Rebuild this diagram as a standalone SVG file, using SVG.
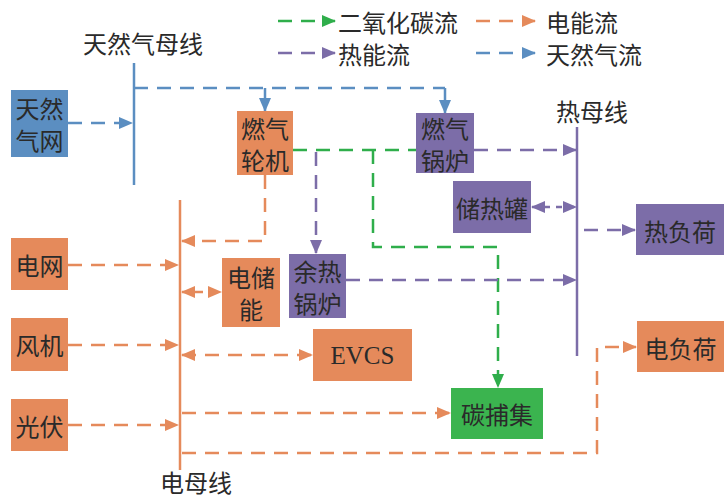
<svg xmlns="http://www.w3.org/2000/svg" width="726" height="498" viewBox="0 0 726 498">
<style>
text{font-family:"Noto Sans CJK SC","Liberation Serif",sans-serif;font-size:24px;fill:#2a2a2a;text-anchor:middle;dominant-baseline:central}
.en{font-family:"Liberation Serif",serif;font-size:25px}
.lg{text-anchor:start}
.orange{fill:#E58A5B}.blue{fill:#5B8EC1}.purple{fill:#7C6DA8}.green{fill:#3BB44F}
.so{stroke:#E58A5B}.sb{stroke:#5B8EC1}.sp{stroke:#7C6DA8}.sg{stroke:#2FAE4B}
.d{fill:none;stroke-width:2.5;stroke-dasharray:14 9}
.bus{fill:none;stroke-width:2.5}
</style>
<defs>
<marker id="ao" markerUnits="userSpaceOnUse" markerWidth="14" markerHeight="14" viewBox="0 0 14 14" refX="13" refY="7" orient="auto-start-reverse"><path d="M0,1 L14,7 L0,13 Z" fill="#E58A5B"/></marker>
<marker id="ab" markerUnits="userSpaceOnUse" markerWidth="14" markerHeight="14" viewBox="0 0 14 14" refX="13" refY="7" orient="auto-start-reverse"><path d="M0,1 L14,7 L0,13 Z" fill="#5B8EC1"/></marker>
<marker id="ap" markerUnits="userSpaceOnUse" markerWidth="14" markerHeight="14" viewBox="0 0 14 14" refX="13" refY="7" orient="auto-start-reverse"><path d="M0,1 L14,7 L0,13 Z" fill="#7C6DA8"/></marker>
<marker id="ag" markerUnits="userSpaceOnUse" markerWidth="14" markerHeight="14" viewBox="0 0 14 14" refX="13" refY="7" orient="auto-start-reverse"><path d="M0,1 L14,7 L0,13 Z" fill="#2FAE4B"/></marker>
</defs>

<g id="legend">
<line class="d sg" x1="278" y1="21" x2="335" y2="21" marker-end="url(#ag)"/>
<text class="lg" x="338" y="21">二氧化碳流</text>
<line class="d so" x1="476" y1="21" x2="535" y2="21" marker-end="url(#ao)"/>
<text class="lg" x="546" y="21">电能流</text>
<line class="d sp" x1="278" y1="53" x2="335" y2="53" marker-end="url(#ap)"/>
<text class="lg" x="338" y="53">热能流</text>
<line class="d sb" x1="476" y1="53" x2="535" y2="53" marker-end="url(#ab)"/>
<text class="lg" x="546" y="53">天然气流</text>
</g>

<g id="buses">
<line class="bus sb" x1="134" y1="63" x2="134" y2="185"/>
<text x="143" y="42">天然气母线</text>
<line class="bus sp" x1="577" y1="127" x2="577" y2="356"/>
<text x="592" y="110">热母线</text>
<line class="bus so" x1="180" y1="200" x2="180" y2="470"/>
<text x="196" y="481">电母线</text>
</g>

<g id="connectors">
<!-- gas -->
<line class="d sb" x1="68" y1="123" x2="132" y2="123" marker-end="url(#ab)"/>
<polyline class="d sb" points="134,88 445,88"/>
<line class="d sb" x1="265" y1="88" x2="265" y2="111" marker-end="url(#ab)" style="stroke-dasharray:none"/>
<line class="d sb" x1="445" y1="88" x2="445" y2="113" marker-end="url(#ab)" style="stroke-dasharray:none"/>
<!-- CO2 -->
<line class="d sg" x1="293" y1="150" x2="416" y2="150"/>
<polyline class="d sg" points="373,150 373,247 498,247 498,387" marker-end="url(#ag)"/>
<!-- heat -->
<line class="d sp" x1="316" y1="152" x2="316" y2="253" marker-end="url(#ap)"/>
<line class="d sp" x1="474" y1="150" x2="576" y2="150" marker-end="url(#ap)"/>
<line class="d sp" x1="532" y1="207" x2="576" y2="207" marker-start="url(#ap)" marker-end="url(#ap)" style="stroke-dasharray:6 6"/>
<line class="d sp" x1="584" y1="230" x2="635" y2="230" marker-end="url(#ap)"/>
<line class="d sp" x1="346" y1="280" x2="576" y2="280" marker-end="url(#ap)"/>
<!-- electricity -->
<polyline class="d so" points="265,175 265,241 182,241" marker-end="url(#ao)"/>
<line class="d so" x1="68" y1="265" x2="178" y2="265" marker-end="url(#ao)"/>
<line class="d so" x1="182" y1="292" x2="221" y2="292" marker-start="url(#ao)" marker-end="url(#ao)" style="stroke-dasharray:8 5"/>
<line class="d so" x1="68" y1="345" x2="178" y2="345" marker-end="url(#ao)"/>
<line class="d so" x1="182" y1="355" x2="312" y2="355" marker-start="url(#ao)" marker-end="url(#ao)"/>
<line class="d so" x1="68" y1="425" x2="178" y2="425" marker-end="url(#ao)"/>
<line class="d so" x1="182" y1="413" x2="450" y2="413" marker-end="url(#ao)"/>
<polyline class="d so" points="182,453 597,453 597,347 636,347" marker-end="url(#ao)"/>
</g>

<g id="n-gasgrid"><rect class="blue" x="11" y="90" width="57" height="67"/><text x="39.5" y="107">天然</text><text x="39.5" y="139">气网</text></g>
<g id="n-gt"><rect class="orange" x="237" y="111" width="56" height="64"/><text x="265" y="127">燃气</text><text x="265" y="159">轮机</text></g>
<g id="n-gb"><rect class="purple" x="416" y="113" width="58" height="60"/><text x="445" y="127">燃气</text><text x="445" y="159">锅炉</text></g>
<g id="n-tank"><rect class="purple" x="453" y="181" width="78" height="52"/><text x="492" y="207">储热罐</text></g>
<g id="n-heatload"><rect class="purple" x="636" y="204" width="88" height="51"/><text x="680" y="230">热负荷</text></g>
<g id="n-hrsg"><rect class="purple" x="289" y="254" width="57" height="64"/><text x="317.5" y="270">余热</text><text x="317.5" y="302">锅炉</text></g>
<g id="n-grid"><rect class="orange" x="11" y="238" width="57" height="52"/><text x="39.5" y="264">电网</text></g>
<g id="n-wind"><rect class="orange" x="11" y="318" width="57" height="53"/><text x="39.5" y="344">风机</text></g>
<g id="n-pv"><rect class="orange" x="11" y="399" width="57" height="52"/><text x="39.5" y="425">光伏</text></g>
<g id="n-ess"><rect class="orange" x="222" y="258" width="58" height="69"/><text x="251" y="276">电储</text><text x="251" y="308">能</text></g>
<g id="n-evcs"><rect class="orange" x="313" y="329" width="99" height="52"/><text class="en" x="362.5" y="355">EVCS</text></g>
<g id="n-ccs"><rect class="green" x="451" y="388" width="92" height="51"/><text x="497" y="413">碳捕集</text></g>
<g id="n-eload"><rect class="orange" x="637" y="321" width="87" height="51"/><text x="680.5" y="347">电负荷</text></g>
</svg>
